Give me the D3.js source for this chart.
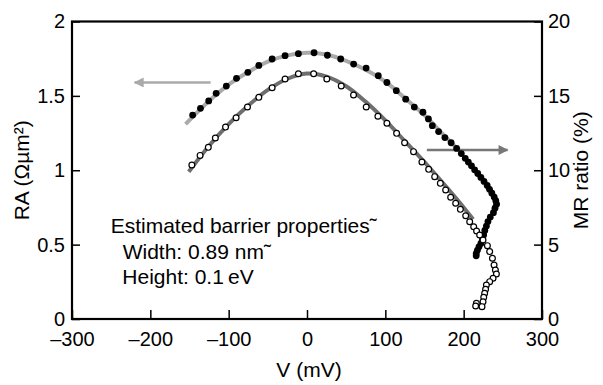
<!DOCTYPE html>
<html>
<head>
<meta charset="utf-8">
<script src="https://cdn.jsdelivr.net/npm/d3@7"></script>
<style>
  body { margin: 0; background: #fff; }
  text { font-family: "Liberation Sans", Arial, sans-serif; fill: #000; }
</style>
</head>
<body>
<div id="chart"></div>
<script>
var svgWidth = 603;
var svgHeight = 385;

// plot box (pixels)
var margin = { top: 21.5, right: 61, bottom: 66, left: 72 };
var width = svgWidth - margin.left - margin.right;
var height = svgHeight - margin.top - margin.bottom;

// ticks
var xTicks = [-300, -200, -100, 0, 100, 200, 300];
var raTicks = [0, 0.5, 1, 1.5, 2];
var mrTicks = [0, 5, 10, 15, 20];

// RA data (filled circles, left axis)
var raV = [-146, -136, -125.5, -116, -103, -90, -75.5, -61.5, -44.5, -28, -11, 9, 26, 43, 59.5, 75.5,
  91, 102, 114, 126, 137, 148, 155, 160, 168, 176, 184, 191, 197, 202, 206, 210, 214, 218, 222, 226,
  230, 233, 236, 239, 241, 242, 240, 238, 234, 231, 229, 227, 225.5, 224, 222, 219.5, 217.5, 216, 216];
var raVal = [1.371, 1.416, 1.466, 1.517, 1.566, 1.618, 1.658, 1.705, 1.748, 1.770, 1.784, 1.790, 1.773, 1.748, 1.714, 1.687,
  1.636, 1.590, 1.535, 1.478, 1.425, 1.390, 1.345, 1.30, 1.26, 1.22, 1.185, 1.147, 1.112, 1.080, 1.055, 1.030, 1.003, 0.978, 0.952, 0.925,
  0.898, 0.872, 0.846, 0.820, 0.795, 0.772, 0.745, 0.715, 0.685, 0.655, 0.625, 0.595, 0.565, 0.535, 0.508, 0.485, 0.462, 0.44, 0.425];

// MR data (open circles, right axis)
var mrV = [-147, -136.5, -126, -117, -104, -90.5, -76, -61.5, -44.5, -28, -11, 8.5, 25.3, 43.7, 59.4, 75.6,
  90.5, 102, 114.4, 124.6, 136, 146.7, 155.3, 163, 170.2, 177, 183.4, 189.8, 195.8, 202.6, 207.7, 212.8,
  216.5, 220.4, 224.7, 230.3, 233.2, 236.7, 238.8, 240.5, 241.8, 237.5, 233.2, 229, 228, 226.8, 225.6, 224.7, 223.4, 216.2, 215.3];
var mrVal = [10.35, 11.0, 11.54, 12.17, 12.9, 13.53, 14.25, 14.9, 15.55, 16.13, 16.49, 16.49, 16.13, 15.66, 15.06, 14.25,
  13.63, 13.16, 12.48, 11.85, 11.25, 10.55, 10.06, 9.57, 9.12, 8.67, 8.18, 7.78, 7.37, 6.94, 6.54, 6.2,
  5.92, 5.65, 5.31, 4.93, 4.53, 4.08, 3.63, 3.29, 3.03, 2.74, 2.51, 2.29, 2.0, 1.73, 1.46, 1.16, 0.83, 1.06, 0.87];

// fitted curves
var raFitV = [-155, -125, -100, -75, -50, -25, 0, 25, 50, 75, 100, 125, 150, 175, 195];
var raFitVal = [1.31, 1.465, 1.575, 1.66, 1.73, 1.772, 1.79, 1.778, 1.735, 1.675, 1.595, 1.485, 1.37, 1.235, 1.13];
var mrFitV = [-151, -125, -100, -75, -50, -25, 0, 25, 50, 75, 100, 125, 150, 175, 200, 212];
var mrFitVal = [9.9, 11.65, 13.1, 14.35, 15.4, 16.15, 16.5, 16.3, 15.65, 14.6, 13.35, 11.95, 10.55, 9.05, 7.5, 6.7];

var svg = d3.select("#chart")
  .append("svg")
  .attr("width", svgWidth)
  .attr("height", svgHeight);

var chartGroup = svg.append("g")
  .attr("transform", `translate(${margin.left}, ${margin.top})`);

var xScale = d3.scaleLinear().domain([-300, 300]).range([0, width]);
var raScale = d3.scaleLinear().domain([0, 2]).range([height, 0]);
var mrScale = d3.scaleLinear().domain([0, 20]).range([height, 0]);

var fmt = d3.format("~g");
var xFmt = d => d < 0 ? "\u2013" + Math.abs(d) : String(d);

// axes with inward ticks
var bottomAxis = d3.axisBottom(xScale).tickValues(xTicks).tickFormat(xFmt)
  .tickSizeInner(-9).tickSizeOuter(0).tickPadding(13);
var leftAxis = d3.axisLeft(raScale).tickValues(raTicks).tickFormat(fmt)
  .tickSizeInner(-8).tickSizeOuter(0).tickPadding(7);
var rightAxis = d3.axisRight(mrScale).tickValues(mrTicks).tickFormat(fmt)
  .tickSizeInner(-8).tickSizeOuter(0).tickPadding(6);

function styleAxis(g) {
  g.select(".domain").remove();
  g.selectAll(".tick line").attr("stroke", "#000").attr("stroke-width", 1.5);
  g.selectAll(".tick text").attr("font-size", "20px").attr("font-family", "Liberation Sans, Arial, sans-serif").attr("fill", "#000");
}

chartGroup.append("g").attr("transform", `translate(0, ${height})`).call(bottomAxis).call(styleAxis);
chartGroup.append("g").call(leftAxis).call(styleAxis);
chartGroup.append("g").attr("transform", `translate(${width}, 0)`).call(rightAxis).call(styleAxis);

// fit lines
var raFit = raFitV.map((v, i) => [v, raFitVal[i]]);
var mrFit = mrFitV.map((v, i) => [v, mrFitVal[i]]);

chartGroup.append("path")
  .datum(raFit)
  .attr("fill", "none")
  .attr("stroke", "#aaaaaa")
  .attr("stroke-width", 4)
  .attr("d", d3.line().x(d => xScale(d[0])).y(d => raScale(d[1])).curve(d3.curveCatmullRom));

chartGroup.append("path")
  .datum(mrFit)
  .attr("fill", "none")
  .attr("stroke", "#6e6e6e")
  .attr("stroke-width", 4)
  .attr("d", d3.line().x(d => xScale(d[0])).y(d => mrScale(d[1])).curve(d3.curveCatmullRom));

// arrows
var defs = svg.append("defs");
[["headLight", "#aaaaaa"], ["headDark", "#777777"]].forEach(function(m) {
  defs.append("marker")
    .attr("id", m[0])
    .attr("viewBox", "0 0 10 10")
    .attr("refX", 9).attr("refY", 5)
    .attr("markerWidth", 5).attr("markerHeight", 4)
    .attr("markerUnits", "strokeWidth")
    .attr("orient", "auto")
    .append("path").attr("d", "M0,0 L10,5 L0,10 Z").attr("fill", m[1]);
});

chartGroup.append("line")
  .attr("x1", xScale(-123)).attr("x2", xScale(-220))
  .attr("y1", raScale(1.59)).attr("y2", raScale(1.59))
  .attr("stroke", "#aaaaaa").attr("stroke-width", 2.5)
  .attr("marker-end", "url(#headLight)");

chartGroup.append("line")
  .attr("x1", xScale(153)).attr("x2", xScale(256))
  .attr("y1", mrScale(11.36)).attr("y2", mrScale(11.36))
  .attr("stroke", "#777777").attr("stroke-width", 2.5)
  .attr("marker-end", "url(#headDark)");

// data points
chartGroup.selectAll(".ra-dot")
  .data(raV.map((v, i) => [v, raVal[i]]))
  .enter()
  .append("circle")
  .attr("class", "ra-dot")
  .attr("cx", d => xScale(d[0]))
  .attr("cy", d => raScale(d[1]))
  .attr("r", 3.4)
  .attr("fill", "#000");

chartGroup.selectAll(".mr-dot")
  .data(mrV.map((v, i) => [v, mrVal[i]]))
  .enter()
  .append("circle")
  .attr("class", "mr-dot")
  .attr("cx", d => xScale(d[0]))
  .attr("cy", d => mrScale(d[1]))
  .attr("r", 2.9)
  .attr("fill", "#fff")
  .attr("stroke", "#000")
  .attr("stroke-width", 1.2);

// frame
chartGroup.append("rect")
  .attr("x", 0).attr("y", 0)
  .attr("width", width).attr("height", height)
  .attr("fill", "none")
  .attr("stroke", "#000")
  .attr("stroke-width", 2.2);

// annotation
var note = chartGroup.append("g").attr("font-size", "21px");
note.append("text").attr("x", 38.7).attr("y", 211.5).text("Estimated barrier properties\u02dc");
note.append("text").attr("x", 50.7).attr("y", 237).text("Width: 0.89 nm\u02dc");
note.append("text").attr("x", 50.3).attr("y", 262.5).text("Height: 0.1\u2009eV");

// axis titles
chartGroup.append("text")
  .attr("x", width / 2 + 2)
  .attr("y", height + 58)
  .attr("text-anchor", "middle")
  .attr("font-size", "21px")
  .text("V (mV)");

chartGroup.append("text")
  .attr("transform", `translate(${-43}, ${height / 2}) rotate(-90)`)
  .attr("text-anchor", "middle")
  .attr("font-size", "21px")
  .text("RA (\u03a9\u00b5m\u00b2)");

chartGroup.append("text")
  .attr("transform", `translate(${width + 46}, ${height / 2}) rotate(-90)`)
  .attr("text-anchor", "middle")
  .attr("font-size", "21px")
  .text("MR ratio (%)");
</script>
</body>
</html>
